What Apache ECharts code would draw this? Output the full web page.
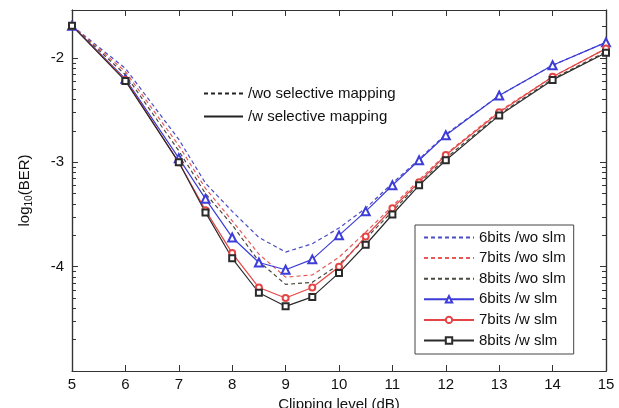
<!DOCTYPE html>
<html><head><meta charset="utf-8">
<script src="https://cdn.jsdelivr.net/npm/echarts@6/dist/echarts.min.js"></script>
<style>html,body{margin:0;padding:0;background:#fff}#c{width:619px;height:408px}</style>
</head><body><div id="c"></div>
<script>
const xVals = [5, 6, 7, 7.5, 8, 8.5, 9, 9.5, 10, 10.5, 11, 11.5, 12, 13, 14, 15];
const wo6 = [-1.69, -2.10, -2.78, -3.20, -3.47, -3.72, -3.86, -3.78, -3.63, -3.44, -3.20, -2.97, -2.73, -2.36, -2.07, -1.85];
const wo7 = [-1.69, -2.13, -2.84, -3.25, -3.56, -3.88, -4.10, -4.08, -3.91, -3.67, -3.42, -3.17, -2.92, -2.51, -2.18, -1.91];
const wo8 = [-1.69, -2.16, -2.89, -3.30, -3.60, -3.95, -4.17, -4.15, -3.98, -3.73, -3.47, -3.20, -2.96, -2.54, -2.20, -1.94];
const w6 = [-1.69, -2.20, -2.96, -3.35, -3.72, -3.96, -4.03, -3.93, -3.70, -3.47, -3.22, -2.98, -2.74, -2.36, -2.07, -1.85];
const w7 = [-1.69, -2.21, -3.00, -3.46, -3.87, -4.20, -4.30, -4.20, -4.00, -3.71, -3.44, -3.19, -2.93, -2.52, -2.18, -1.91];
const w8 = [-1.69, -2.22, -3.00, -3.48, -3.92, -4.25, -4.38, -4.29, -4.06, -3.79, -3.50, -3.22, -2.98, -2.55, -2.21, -1.95];
const seriesNames = ['6bits /wo slm', '7bits /wo slm', '8bits /wo slm', '6bits /w slm', '7bits /w slm', '8bits /w slm'];
const styleNames = ['/wo selective mapping', '/w selective mapping'];
const yMajor = [-4, -3, -2];

const Y_MIN = -5, Y_MAX = -1.54;
const yMinor = [];
[-5, -4, -3, -2].forEach(d => { for (let k = 2; k <= 9; k++) { const v = d + Math.log10(k); if (v < Y_MAX) yMinor.push(v); } });

const pts = arr => xVals.map((x, i) => [x, arr[i]]);
const FONT = 'Liberation Sans';
const axisLine = { show: true, lineStyle: { color: '#333', width: 1.2 } };

const mkY = (pos, ticks, len, showLabel) => ({
  type: 'value', min: Y_MIN, max: Y_MAX, position: pos, offset: 0,
  axisLine: axisLine, splitLine: { show: false },
  axisTick: { show: true, inside: true, length: len, customValues: ticks, lineStyle: { color: '#333', width: 1 } },
  axisLabel: showLabel ? { customValues: yMajor, fontSize: 15, color: '#111', fontFamily: FONT, margin: 8, formatter: v => String(Math.round(v)) } : { show: false }
});

const yAxes = [mkY('left', yMajor, 6, true), mkY('left', yMinor, 4, false), mkY('right', yMajor, 6, false), mkY('right', yMinor, 4, false)];
yAxes[0].name = '{a|log}{b|10}{a|(BER)}';
yAxes[0].nameLocation = 'middle';
yAxes[0].nameGap = 38;
yAxes[0].nameTextStyle = { fontFamily: FONT, color: '#111', rich: { a: { fontSize: 15, fontFamily: FONT, color: '#111' }, b: { fontSize: 10, fontFamily: FONT, color: '#111', padding: [9, 0, 0, 0] } } };

const dashed = (name, data, color) => ({ name, type: 'line', data: pts(data), symbol: 'none', lineStyle: { color, width: 1.2, type: [4, 3] }, itemStyle: { color }, xAxisIndex: 0, yAxisIndex: 0, z: 2 });
const solid = (name, data, color, sym, size) => ({ name, type: 'line', data: pts(data), symbol: sym, symbolSize: size, showSymbol: true, lineStyle: { color, width: 1.2 }, itemStyle: { color, borderColor: color, borderWidth: 1 }, xAxisIndex: 0, yAxisIndex: 0, z: 3 });

const noMark = n => ({ name: n, itemStyle: { opacity: 0 } });

const option = {
  animation: false,
  backgroundColor: '#fff',
  grid: { left: 72, right: 13, top: 10, bottom: 37, containLabel: false, outerBoundsMode: 'none' },
  xAxis: [
    { type: 'value', min: 5, max: 15, interval: 1, position: 'bottom', axisLine: axisLine, splitLine: { show: false },
      axisTick: { inside: true, length: 6, lineStyle: { color: '#333' } },
      axisLabel: { fontSize: 15, color: '#111', fontFamily: FONT, margin: 6 },
      name: 'Clipping level (dB)', nameLocation: 'middle', nameGap: 18, nameTextStyle: { fontSize: 15, color: '#111', fontFamily: FONT } },
    { type: 'value', min: 5, max: 15, interval: 1, position: 'top', axisLine: axisLine, splitLine: { show: false },
      axisTick: { inside: true, length: 6, lineStyle: { color: '#333' } }, axisLabel: { show: false } }
  ],
  yAxis: yAxes,
  legend: [
    { data: [noMark(seriesNames[0]), noMark(seriesNames[1]), noMark(seriesNames[2]), seriesNames[3], seriesNames[4], seriesNames[5]],
      orient: 'vertical', left: 415, top: 225, width: 168, padding: [5, 8, 6, 8], itemWidth: 50, itemHeight: 8, itemGap: 5.6,
      borderColor: '#444', borderWidth: 1, backgroundColor: '#fff', selectedMode: false,
      textStyle: { fontSize: 15, color: '#111', fontFamily: FONT }, z: 10 },
    { data: [noMark(styleNames[0]), noMark(styleNames[1])], orient: 'vertical', left: 198, top: 86, padding: [0, 5, 0, 5], itemWidth: 39, itemHeight: 8, itemGap: 8, selectedMode: false,
      textStyle: { fontSize: 15, color: '#111', fontFamily: FONT } }
  ],
  series: [
    dashed(seriesNames[0], wo6, '#4b4bc8'),
    dashed(seriesNames[1], wo7, '#e45a5a'),
    dashed(seriesNames[2], wo8, '#4a4a40'),
    solid(seriesNames[3], w6, '#3c3cd8', 'emptyTriangle', 8),
    solid(seriesNames[4], w7, '#e54545', 'emptyCircle', 6),
    solid(seriesNames[5], w8, '#2b2b2b', 'emptyRect', 6),
    { name: styleNames[0], type: 'line', data: [], symbol: 'none', lineStyle: { color: '#222', width: 1.2, type: [4, 3] }, itemStyle: { color: '#222' } },
    { name: styleNames[1], type: 'line', data: [], symbol: 'none', lineStyle: { color: '#222', width: 1.2 }, itemStyle: { color: '#222' } }
  ]
};
echarts.init(document.getElementById('c')).setOption(option);
</script></body></html>
